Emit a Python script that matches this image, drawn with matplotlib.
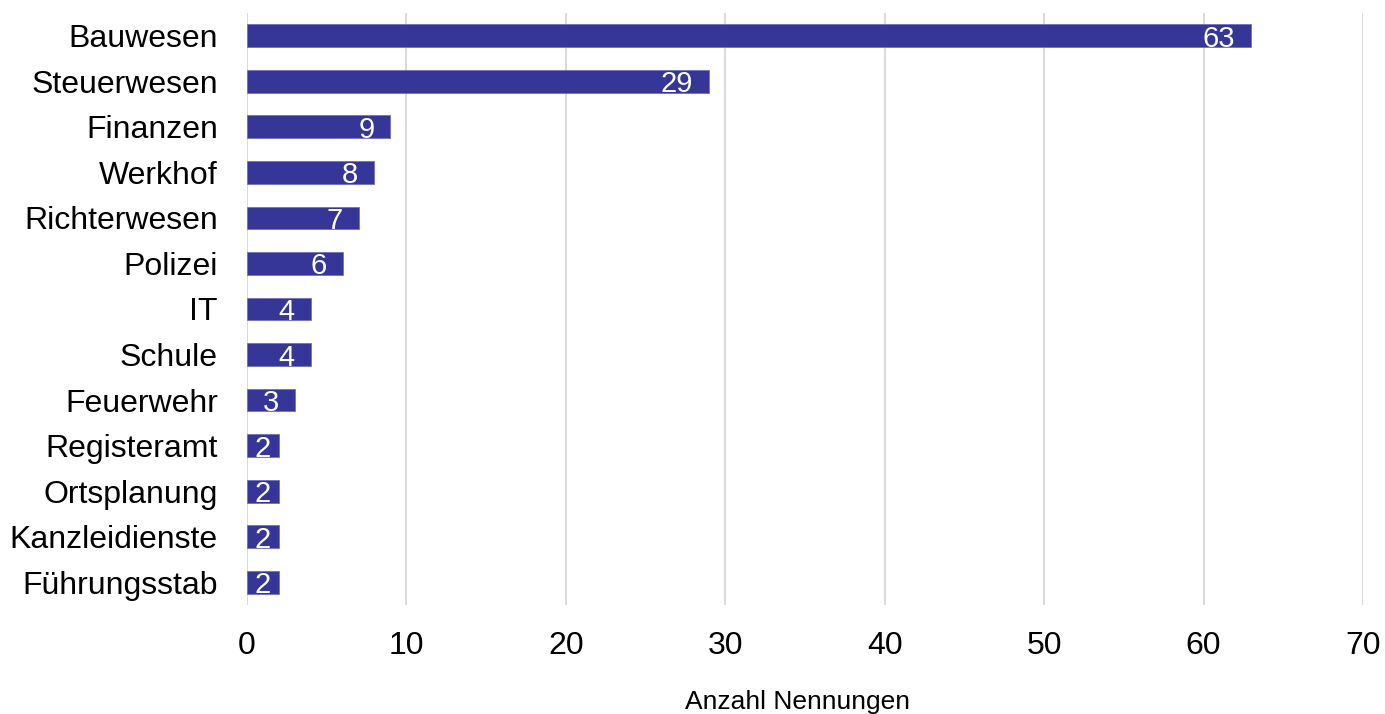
import matplotlib
matplotlib.use("Agg")
import matplotlib.pyplot as plt

plt.rcParams['font.family'] = ['Liberation Sans', 'DejaVu Sans']

# Daten
kategorien = ["Bauwesen", "Steuerwesen", "Finanzen", "Werkhof", "Richterwesen",
              "Polizei", "IT", "Schule", "Feuerwehr", "Registeramt",
              "Ortsplanung", "Kanzleidienste", "Führungsstab"]
nennungen = [63, 29, 9, 8, 7, 6, 4, 4, 3, 2, 2, 2, 2]
x_ticks = [0, 10, 20, 30, 40, 50, 60, 70]

fig = plt.figure(figsize=(13.85, 7.14), dpi=100)
ax = fig.add_axes([0.1783, 0.1527, 0.9841 - 0.1783, 0.9818 - 0.1527])

pos = list(range(len(kategorien)))
bars = ax.barh(pos, nennungen, height=0.5, color='#363699',
               edgecolor='#7070c0', linewidth=0.6, zorder=3)

ax.set_xlim(0, 70)
ax.set_ylim(len(kategorien) - 0.5, -0.5)
ax.set_yticks(pos)
ax.set_yticklabels(kategorien, fontsize=23)
ax.set_xticks(x_ticks)
ax.set_xticklabels([str(v) for v in x_ticks], fontsize=23)
ax.tick_params(axis='both', length=0)
ax.tick_params(axis='y', pad=21)
ax.tick_params(axis='x', pad=19)

ax.grid(axis='x', color='#d9d9d9', linewidth=1.4, zorder=0)
for s in ax.spines.values():
    s.set_visible(False)

# Werte in den Balken
for p, v in zip(pos, nennungen):
    if v <= 2:
        ax.annotate(str(v), (v / 2, p), ha='center', va='center_baseline',
                    color='white', fontsize=21)
    else:
        ax.annotate(str(v), (v, p), xytext=(-16, 0), textcoords='offset pixels',
                    ha='right', va='center_baseline', color='white', fontsize=21)

fig.text(0.576, 0.007, "Anzahl Nennungen", ha='center', va='baseline', fontsize=19)

fig.savefig("out.png", dpi=100)
